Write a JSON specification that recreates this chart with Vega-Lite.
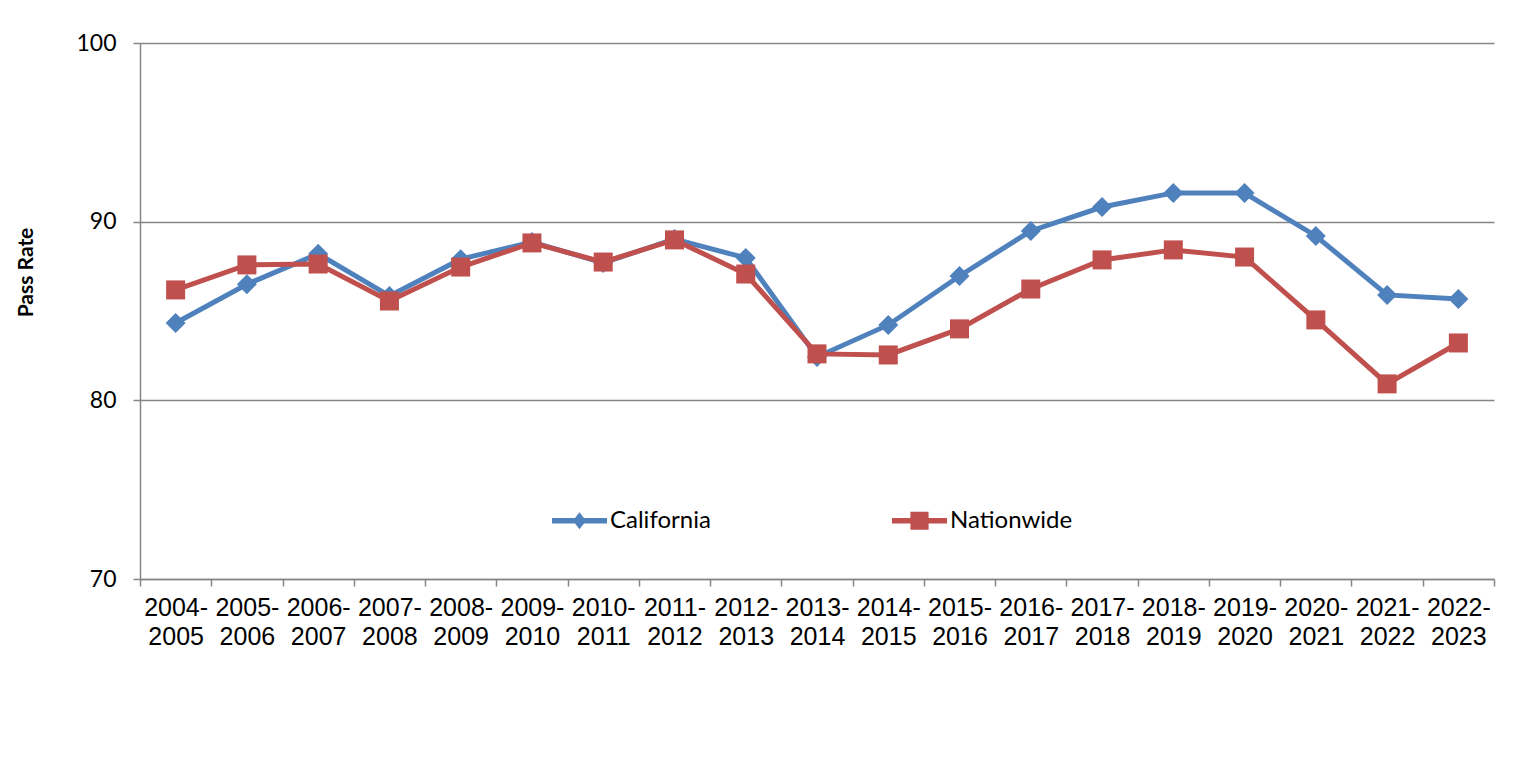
{
  "$schema": "https://vega.github.io/schema/vega-lite/v6.json",
  "width": 1354,
  "height": 536,
  "autosize": {"type": "none"},
  "padding": {"left": 140, "top": 43, "right": 26, "bottom": 200},
  "background": "white",
  "config": {"view": {"stroke": null}, "font": "Lato"},
  "data": {
    "values": [
      {"period": "2004-2005", "series": "California", "rate": 84.33},
      {"period": "2005-2006", "series": "California", "rate": 86.5},
      {"period": "2006-2007", "series": "California", "rate": 88.2},
      {"period": "2007-2008", "series": "California", "rate": 85.84},
      {"period": "2008-2009", "series": "California", "rate": 87.9},
      {"period": "2009-2010", "series": "California", "rate": 88.86},
      {"period": "2010-2011", "series": "California", "rate": 87.69},
      {"period": "2011-2012", "series": "California", "rate": 89.03},
      {"period": "2012-2013", "series": "California", "rate": 87.97},
      {"period": "2013-2014", "series": "California", "rate": 82.43},
      {"period": "2014-2015", "series": "California", "rate": 84.22},
      {"period": "2015-2016", "series": "California", "rate": 86.96},
      {"period": "2016-2017", "series": "California", "rate": 89.48},
      {"period": "2017-2018", "series": "California", "rate": 90.82},
      {"period": "2018-2019", "series": "California", "rate": 91.61},
      {"period": "2019-2020", "series": "California", "rate": 91.6},
      {"period": "2020-2021", "series": "California", "rate": 89.2},
      {"period": "2021-2022", "series": "California", "rate": 85.9},
      {"period": "2022-2023", "series": "California", "rate": 85.67},
      {"period": "2004-2005", "series": "Nationwide", "rate": 86.18},
      {"period": "2005-2006", "series": "Nationwide", "rate": 87.58},
      {"period": "2006-2007", "series": "Nationwide", "rate": 87.63},
      {"period": "2007-2008", "series": "Nationwide", "rate": 85.56},
      {"period": "2008-2009", "series": "Nationwide", "rate": 87.46},
      {"period": "2009-2010", "series": "Nationwide", "rate": 88.81},
      {"period": "2010-2011", "series": "Nationwide", "rate": 87.74},
      {"period": "2011-2012", "series": "Nationwide", "rate": 88.98},
      {"period": "2012-2013", "series": "Nationwide", "rate": 87.07},
      {"period": "2013-2014", "series": "Nationwide", "rate": 82.6},
      {"period": "2014-2015", "series": "Nationwide", "rate": 82.54},
      {"period": "2015-2016", "series": "Nationwide", "rate": 84.0},
      {"period": "2016-2017", "series": "Nationwide", "rate": 86.23},
      {"period": "2017-2018", "series": "Nationwide", "rate": 87.86},
      {"period": "2018-2019", "series": "Nationwide", "rate": 88.42},
      {"period": "2019-2020", "series": "Nationwide", "rate": 88.02},
      {"period": "2020-2021", "series": "Nationwide", "rate": 84.5},
      {"period": "2021-2022", "series": "Nationwide", "rate": 80.92},
      {"period": "2022-2023", "series": "Nationwide", "rate": 83.21}
    ]
  },
  "encoding": {
    "x": {
      "field": "period",
      "type": "ordinal",
      "sort": null,
      "scale": {"type": "band", "paddingInner": 0, "paddingOuter": 0},
      "axis": {
        "title": null,
        "labelAngle": 0,
        "labelOverlap": false,
        "labelBound": false,
        "labelFont": "Liberation Sans",
        "labelFontSize": 25,
        "labelColor": "#000000",
        "labelLineHeight": 29,
        "labelPadding": 9,
        "labelExpr": "[slice(datum.label, 0, 5), slice(datum.label, 5)]",
        "tickBand": "extent",
        "tickSize": 7,
        "tickColor": "#868686",
        "tickWidth": 1.5,
        "domainColor": "#868686",
        "domainWidth": 1.5,
        "grid": false
      }
    },
    "y": {
      "field": "rate",
      "type": "quantitative",
      "scale": {"domain": [70, 100], "zero": false, "nice": false},
      "axis": {
        "values": [70, 80, 90, 100],
        "labelFont": "Lato",
        "labelFontSize": 23,
        "labelColor": "#000000",
        "labelPadding": 17,
        "tickSize": 7,
        "tickColor": "#868686",
        "tickWidth": 1.5,
        "domainColor": "#868686",
        "domainWidth": 1.5,
        "grid": true,
        "gridColor": "#868686",
        "gridWidth": 1.5,
        "title": "Pass Rate",
        "titleFont": "Lato",
        "titleFontSize": 21,
        "titleFontWeight": "bold",
        "titleColor": "#000000",
        "titleAngle": 270,
        "titleX": -114,
        "titleY": 229,
        "titleAlign": "center",
        "titleBaseline": "middle"
      }
    },
    "color": {
      "field": "series",
      "type": "nominal",
      "scale": {"domain": ["California", "Nationwide"], "range": ["#4F81BD", "#C0504D"]},
      "legend": {
        "title": null,
        "orient": "none",
        "legendX": 412,
        "legendY": 450,
        "direction": "horizontal",
        "padding": 0,
        "symbolSize": 3025,
        "symbolStrokeWidth": 0,
        "labelFont": "Lato",
        "labelFontSize": 24,
        "labelColor": "#000000",
        "labelOffset": 3,
        "columnPadding": 181,
        "encode": {
          "symbols": {
            "update": {
              "shape": {"signal": "datum.value === 'California' ? 'M-1,-0.1H1V0.1H-1Z M0,-0.31L0.24,0L0,0.31L-0.24,0Z' : 'M-1,-0.1H1V0.1H-1Z M-0.33,-0.33H0.33V0.33H-0.33Z'"},
              "fill": {"scale": "color", "field": "value"},
              "fillOpacity": {"value": 1},
              "strokeWidth": {"value": 0},
              "opacity": {"value": 1}
            }
          }
        }
      }
    }
  },
  "layer": [
    {
      "transform": [{"filter": "datum.series === 'California'"}],
      "mark": {"type": "line", "strokeWidth": 5}
    },
    {
      "transform": [{"filter": "datum.series === 'California'"}],
      "mark": {"type": "point", "shape": "diamond", "filled": true, "size": 400, "opacity": 1}
    },
    {
      "transform": [{"filter": "datum.series === 'Nationwide'"}],
      "mark": {"type": "line", "strokeWidth": 5}
    },
    {
      "transform": [{"filter": "datum.series === 'Nationwide'"}],
      "mark": {"type": "point", "shape": "square", "filled": true, "size": 361, "opacity": 1}
    }
  ]
}
